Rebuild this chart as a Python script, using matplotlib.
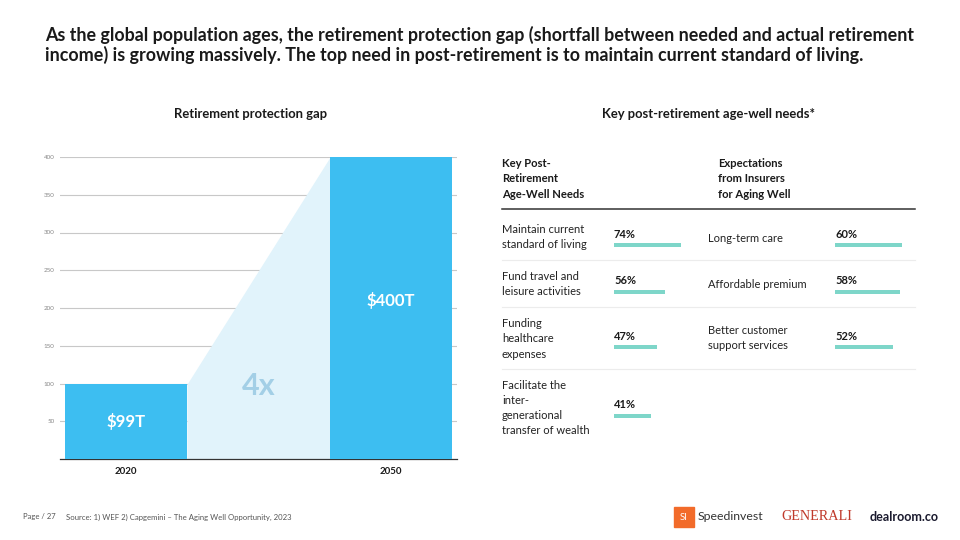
import matplotlib
matplotlib.use("Agg")
import matplotlib.pyplot as plt
from matplotlib.patches import Rectangle

plt.rcParams['font.family'] = ['Lato', 'DejaVu Sans']

# ---- data ----
years = ["2020", "2050"]
gap_values = [99, 400]
gap_labels = ["$99T", "$400T"]
y_ticks = [50, 100, 150, 200, 250, 300, 350, 400]

needs = ["Maintain current\nstandard of living",
         "Fund travel and\nleisure activities",
         "Funding\nhealthcare\nexpenses",
         "Facilitate the\ninter-\ngenerational\ntransfer of wealth"]
needs_pct = [74, 56, 47, 41]
expect = ["Long-term care", "Affordable premium",
          "Better customer\nsupport services"]
expect_pct = [60, 58, 52]

BAR = "#3DBEF1"
FILL = "#E1F3FB"
TEAL = "#7ED6C9"
DARK = "#1a1a1a"

fig = plt.figure(figsize=(9.6, 5.4), dpi=100)
fig.patch.set_facecolor("white")

# ---- left bar chart ----
W, H = 960, 540
def fx(px): return px / W
def fy(py): return 1 - py / H
ax = fig.add_axes([fx(60), fy(459), fx(457) - fx(60), fy(157) - fy(459)])
xs = [0, 1]
bw = 0.46
ax.set_xlim(-0.249, 1.249)
ax.set_ylim(0, 400)
ax.fill_between([bw / 2, 1 - bw / 2], [gap_values[0], gap_values[1]], 0,
                color=FILL, zorder=1, linewidth=0)
ax.bar(xs, gap_values, width=bw, color=BAR, zorder=3)
for x, v, lab in zip(xs, gap_values, gap_labels):
    yy = 50 if v < 200 else 210
    ax.text(x, yy, lab, color="white", fontsize=12, fontweight="bold",
            ha="center", va="center", zorder=4)
ax.text(0.5, 97, "4x", color="#A3CFE6", fontsize=22, fontweight="bold",
        ha="center", va="center", zorder=2)
ax.set_yticks(y_ticks)
ax.set_yticklabels([str(t) for t in y_ticks], fontsize=4.5, color="#888888")
ax.yaxis.grid(True, color="#c8c8c8", linewidth=0.8, zorder=0)
ax.set_axisbelow(True)
ax.tick_params(axis="y", length=0, pad=4)
ax.set_xticks(xs)
ax.set_xticklabels(years, fontsize=7, fontweight="bold", color=DARK)
ax.tick_params(axis="x", length=0, pad=6)
for s in ["top", "right", "left"]:
    ax.spines[s].set_visible(False)
ax.spines["bottom"].set_color("#333333")
ax.spines["bottom"].set_linewidth(0.9)

# ---- overlay axes in pixel coordinates ----
ov = fig.add_axes([0, 0, 1, 1], zorder=5)
ov.set_xlim(0, W)
ov.set_ylim(H, 0)
ov.axis("off")
ov.patch.set_alpha(0)

ov.text(45, 45, "As the global population ages, the retirement protection gap (shortfall between needed and actual retirement\n"
        "income) is growing massively. The top need in post-retirement is to maintain current standard of living.",
        fontsize=12.9, fontweight="bold", color=DARK, ha="left", va="center", linespacing=1.15)

ov.text(251, 114, "Retirement protection gap", fontsize=9.4, fontweight="bold",
        color=DARK, ha="center", va="center")
ov.text(708, 114, "Key post-retirement age-well needs*", fontsize=9.4, fontweight="bold",
        color=DARK, ha="center", va="center")

# table headers
ov.text(502, 179, "Key Post-\nRetirement\nAge-Well Needs", fontsize=8.1, fontweight="bold",
        color=DARK, ha="left", va="center", linespacing=1.5, multialignment="left")
ov.text(718, 179, "Expectations\nfrom Insurers\nfor Aging Well", fontsize=8.1, fontweight="bold",
        color=DARK, ha="left", va="center", linespacing=1.5, multialignment="left")
ov.plot([502, 915], [209, 209], color="#333333", linewidth=1.1)

# rows
row_text_y = [237, 284, 339, 408]
row_pct_y = [234, 281, 336, 405]
row_bar_y = [245, 292, 347, 416]
sep_y = [260, 307, 369]
for y in sep_y:
    ov.plot([502, 915], [y, y], color="#ececec", linewidth=0.8)

lmax = max(needs_pct)
rmax = max(expect_pct)
bar_len = 67
bar_h = 4.5
ov.barh(row_bar_y[:len(needs_pct)], [p / lmax * bar_len for p in needs_pct],
        height=bar_h, left=614, color=TEAL)
ov.barh(row_bar_y[:len(expect_pct)], [p / rmax * bar_len for p in expect_pct],
        height=bar_h, left=835, color=TEAL)

for i, (t, p) in enumerate(zip(needs, needs_pct)):
    ov.text(502, row_text_y[i], t, fontsize=8, color="#222222", ha="left",
            va="center", linespacing=1.45, multialignment="left")
    ov.text(614, row_pct_y[i], f"{p}%", fontsize=8, fontweight="bold",
            color=DARK, ha="left", va="center")
for i, (t, p) in enumerate(zip(expect, expect_pct)):
    ty = row_text_y[i] + (1 if i < 2 else -1)
    ov.text(708, ty, t, fontsize=8, color="#222222", ha="left",
            va="center", linespacing=1.45, multialignment="left")
    ov.text(835, row_pct_y[i], f"{p}%", fontsize=8, fontweight="bold",
            color=DARK, ha="left", va="center")

# footer
ov.text(23, 517, "Page / 27", fontsize=5.5, color="#555555", ha="left", va="center")
ov.text(66, 517, "Source: 1) WEF 2) Capgemini \u2013 The Aging Well Opportunity, 2023",
        fontsize=5.6, color="#555555", ha="left", va="center")

# logos (as text)
ov.add_patch(Rectangle((674, 507), 20, 20, color="#F26B2A"))
ov.text(684, 517.5, "SI", fontsize=7, color="white", ha="center", va="center")
ov.text(698, 517, "Speedinvest", fontsize=8.8, color="#333333", ha="left", va="center")
ov.text(817, 517, "GENERALI", fontsize=10.2, color="#C0392B", ha="center", va="center",
        family=["Liberation Serif", "DejaVu Serif"])
ov.text(870, 517, "dealroom.co", fontsize=9.1, fontweight="bold", color="#1a1a2e",
        ha="left", va="center")

fig.savefig("out.png", dpi=100, facecolor="white")
